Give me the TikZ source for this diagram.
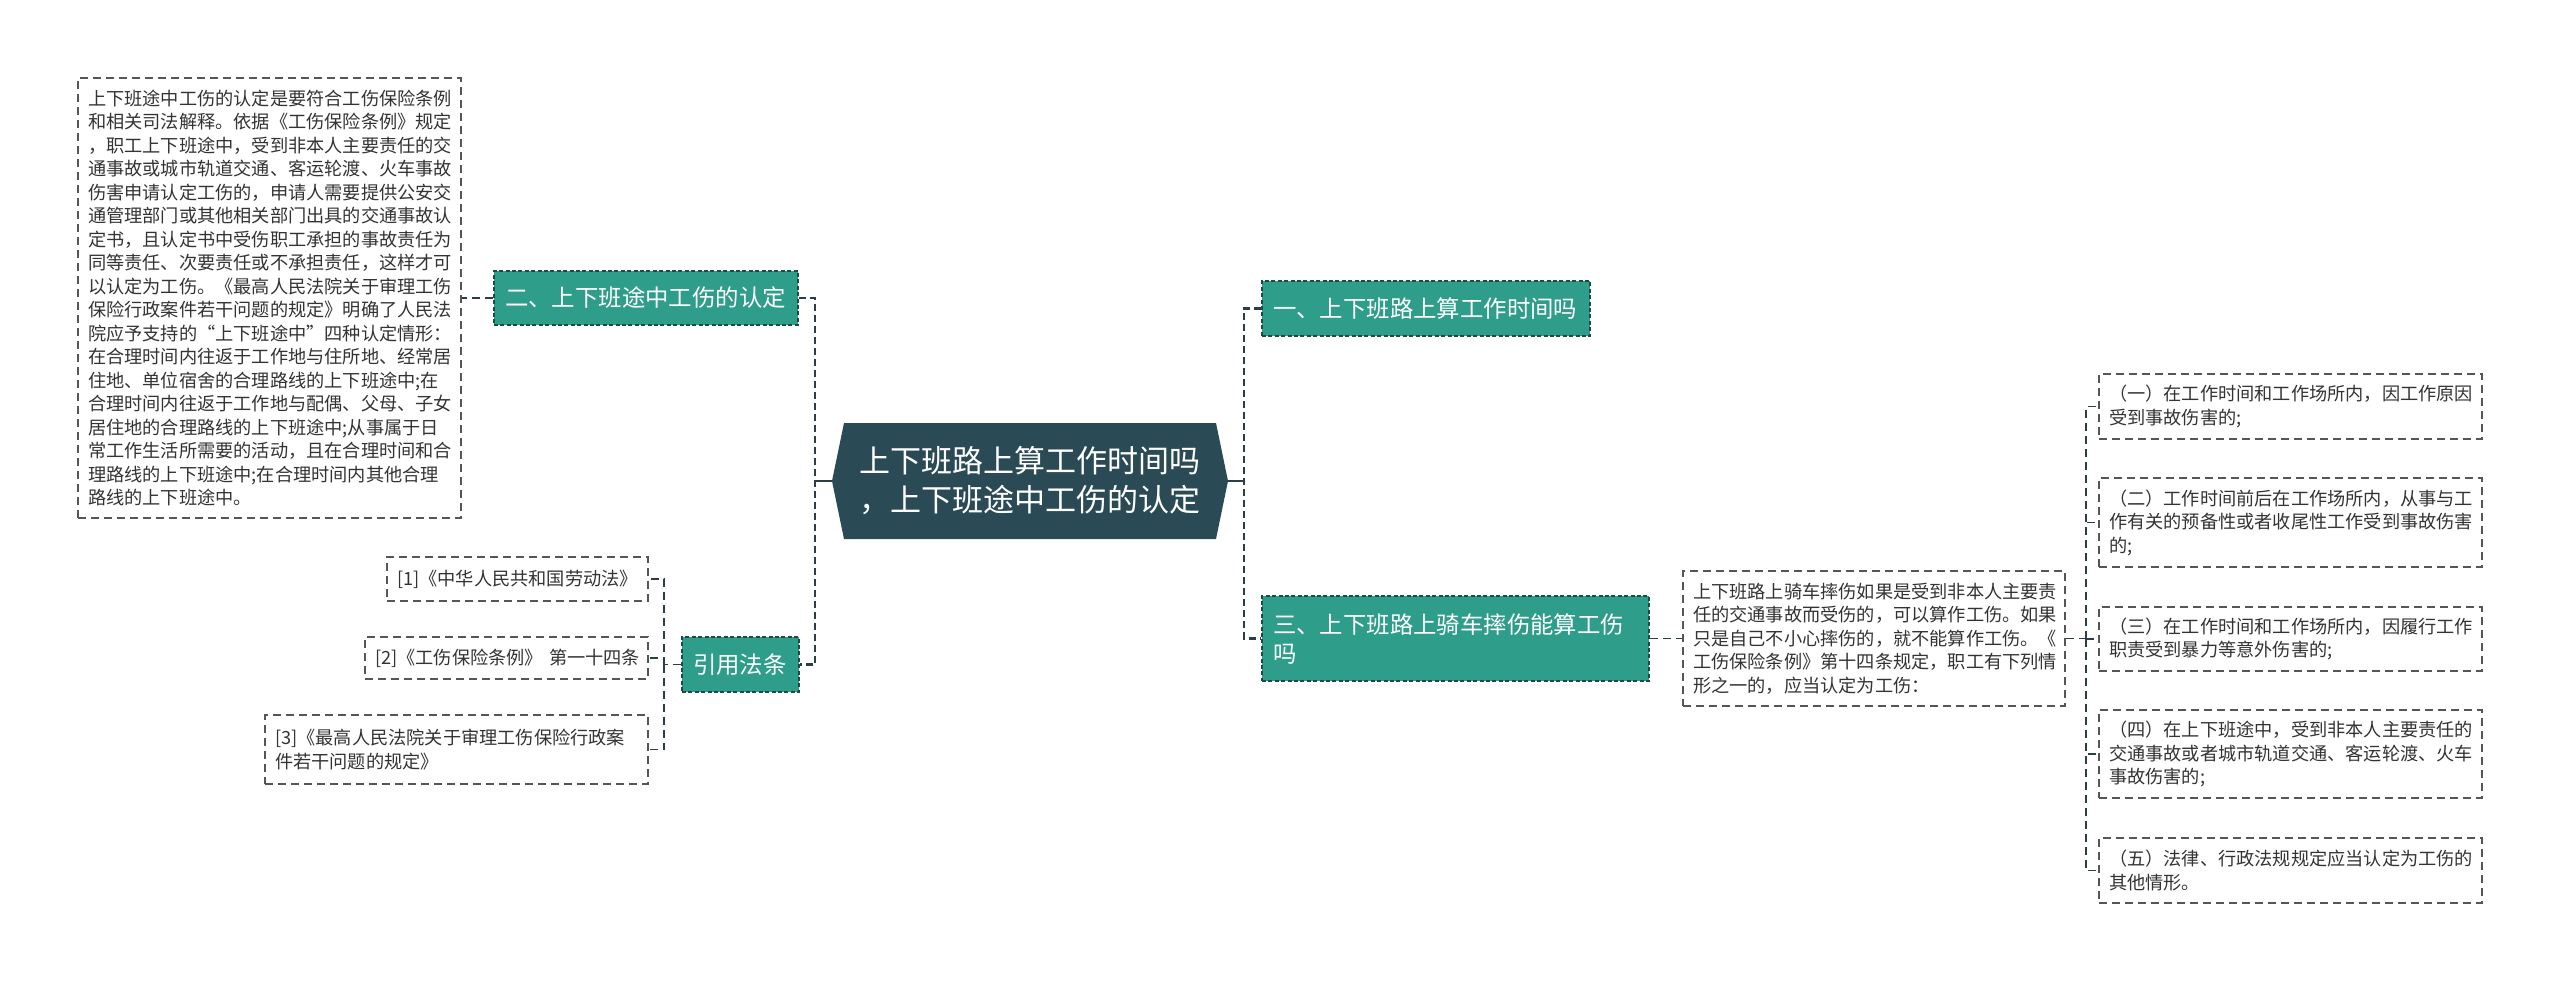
\documentclass[tikz,border=0pt]{standalone}
\usepackage{fontspec}
\newfontfamily\cjk{Noto Sans CJK SC}
\usepackage{tikz}
\usetikzlibrary{calc}

\definecolor{hexfill}{HTML}{2A4A56}
\definecolor{topicfill}{HTML}{2E9D8A}
\definecolor{topicline}{HTML}{1E4A44}
\definecolor{linkcol}{HTML}{2B3E46}
\definecolor{noteline}{HTML}{555555}
\definecolor{notetext}{HTML}{333333}

\tikzset{
  mainnode/.style={text=white, font=\cjk\fontsize{15.5}{19.5}\selectfont, align=center, inner sep=0pt},
  topic/.style={fill=topicfill, draw=topicline, line width=0.6pt, dash pattern=on 2pt off 1.2pt,
    text=white, font=\cjk\fontsize{11.7}{14.5}\selectfont, align=left, inner xsep=5.5pt, inner ysep=0pt},
  notebox/.style={draw=noteline, line width=0.7pt, dash pattern=on 4pt off 2.5pt, text=notetext,
    font=\cjk\fontsize{9.1}{11.75}\selectfont, align=left, inner xsep=5pt, inner ysep=4.5pt},
  trunk/.style={draw=linkcol, line width=1.3pt, dash pattern=on 3.5pt off 2pt},
  link/.style={draw=linkcol, line width=0.7pt, dash pattern=on 4pt off 2.5pt},
  stem/.style={draw=linkcol, line width=1.3pt},
}

\begin{document}
\begin{tikzpicture}[x=0.5pt,y=-0.5pt]
  \fill[white] (0,0) rectangle (2560,981);
  \useasboundingbox (0,0) rectangle (2560,981);

  % centre topic
  \fill[hexfill] (832,481) -- (844,423) -- (1216,423) -- (1228,481) -- (1216,539) -- (844,539) -- cycle;
  \node[mainnode] (main) at (1030,481) {上下班路上算工作时间吗\\，上下班途中工伤的认定};
  \coordinate (hexL) at (832,481);
  \coordinate (hexR) at (1228,481);
  \coordinate (jl) at (815,481);
  \coordinate (jr) at (1244,481);

  % left side
  \node[topic, text width=141pt, minimum height=27pt] (t2) at (646,298) {二、上下班途中工伤的认定};
  \node[notebox, text width=181.5pt, minimum height=220pt] (law) at (269.5,298) {上下班途中工伤的认定是要符合工伤保险条例\\和相关司法解释。依据《工伤保险条例》规定\\，职工上下班途中，受到非本人主要责任的交\\通事故或城市轨道交通、客运轮渡、火车事故\\伤害申请认定工伤的，申请人需要提供公安交\\通管理部门或其他相关部门出具的交通事故认\\定书，且认定书中受伤职工承担的事故责任为\\同等责任、次要责任或不承担责任，这样才可\\以认定为工伤。《最高人民法院关于审理工伤\\保险行政案件若干问题的规定》明确了人民法\\院应予支持的“上下班途中”四种认定情形：\\在合理时间内往返于工作地与住所地、经常居\\住地、单位宿舍的合理路线的上下班途中;在\\合理时间内往返于工作地与配偶、父母、子女\\居住地的合理路线的上下班途中;从事属于日\\常工作生活所需要的活动，且在合理时间和合\\理路线的上下班途中;在合理时间内其他合理\\路线的上下班途中。};
  \node[topic, text width=47.5pt, minimum height=27.5pt] (cite) at (740.5,664.5) {引用法条};
  \node[notebox, text width=120.5pt, minimum height=22pt] (c1) at (517.5,579) {[1]《中华人民共和国劳动法》};
  \node[notebox, text width=131.5pt, minimum height=21pt] (c2) at (506.5,658) {[2]《工伤保险条例》~第一十四条};
  \node[notebox, text width=181.5pt, minimum height=34.5pt] (c3) at (456.5,749.5) {[3]《最高人民法院关于审理工伤保险行政案\\件若干问题的规定》};

  % right side
  \node[topic, text width=153pt, minimum height=27.5pt] (t1) at (1426,308.5) {一、上下班路上算工作时间吗};
  \node[topic, text width=182.5pt, minimum height=42.5pt] (t3) at (1455.5,638.5) {三、上下班路上骑车摔伤能算工伤\\吗};
  \node[notebox, text width=181pt, minimum height=67.5pt] (d3) at (1874,638.5) {上下班路上骑车摔伤如果是受到非本人主要责\\任的交通事故而受伤的，可以算作工伤。如果\\只是自己不小心摔伤的，就不能算作工伤。《\\工伤保险条例》第十四条规定，职工有下列情\\形之一的，应当认定为工伤：};
  \node[notebox, text width=181.5pt, minimum height=32.5pt] (i1) at (2290.5,406.5) {（一）在工作时间和工作场所内，因工作原因\\受到事故伤害的;};
  \node[notebox, text width=181.5pt, minimum height=44.5pt] (i2) at (2290.5,522.5) {（二）工作时间前后在工作场所内，从事与工\\作有关的预备性或者收尾性工作受到事故伤害\\的;};
  \node[notebox, text width=181.5pt, minimum height=32pt] (i3) at (2290.5,639) {（三）在工作时间和工作场所内，因履行工作\\职责受到暴力等意外伤害的;};
  \node[notebox, text width=181.5pt, minimum height=44pt] (i4) at (2290.5,754) {（四）在上下班途中，受到非本人主要责任的\\交通事故或者城市轨道交通、客运轮渡、火车\\事故伤害的;};
  \node[notebox, text width=181.5pt, minimum height=32.5pt] (i5) at (2290.5,870.5) {（五）法律、行政法规规定应当认定为工伤的\\其他情形。};

  % connectors
  \draw[stem] (hexL) -- (jl);
  \draw[stem] (hexR) -- (jr);
  \draw[trunk] (t2.east) -| (jl) |- (cite.east);
  \draw[trunk] (t1.west) -| (jr) |- (t3.west);
  \draw[link] (t2.west) -- (law.east);
  \coordinate (jc) at (664,664.5);
  \draw[link] (cite.west) -- (jc);
  \foreach \n in {c1,c2,c3}
    \draw[link] (jc) |- (\n.east);
  \draw[link] (t3.east) -- (d3.west);
  \coordinate (jd) at (2086,638.5);
  \draw[link] (d3.east) -- (jd);
  \foreach \n in {i1,i2,i3,i4,i5}
    \draw[link] (jd) |- (\n.west);
\end{tikzpicture}
\end{document}
